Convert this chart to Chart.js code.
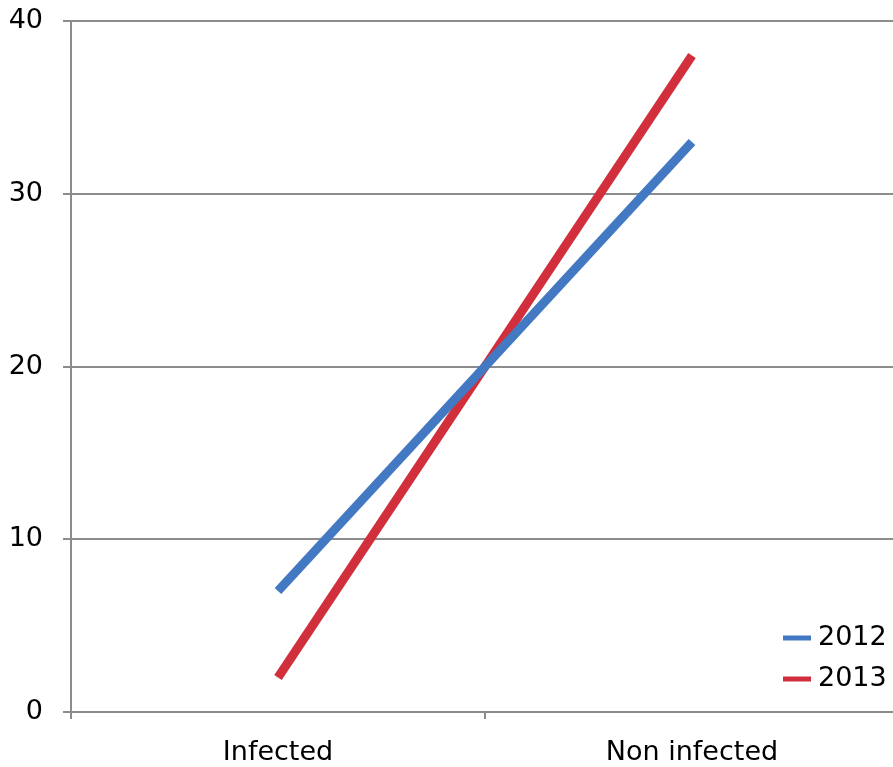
<!DOCTYPE html>
<html>
<head>
<meta charset="utf-8">
<script src="https://cdn.jsdelivr.net/npm/chart.js@4"></script>
<style>
    html, body { margin: 0; padding: 0; background: #fff; overflow: hidden; }
    #chartBox { width: 893px; height: 767px; overflow: hidden; }
</style>
</head>
<body>
<div id="chartBox">
    <canvas id="infectionChart" width="900" height="767"></canvas>
</div>
<script>
// Categories and series
const categories = ['Infected', 'Non infected'];
const seriesLabels = ['2012', '2013'];
const values2012 = [7, 33];
const values2013 = [2, 38];
const yTicks = [0, 10, 20, 30, 40];

const colors = ['#4279c2', '#d12f3c'];
const fontFamily = '"DejaVu Sans", Verdana, sans-serif';

// legend drawn in the bottom right corner of the plot, like the original
const cornerLegend = {
    id: 'cornerLegend',
    afterDraw(chart) {
        const ctx = chart.ctx;
        ctx.save();
        ctx.font = '27px ' + fontFamily;
        ctx.textBaseline = 'middle';
        chart.data.datasets.forEach(function(ds, i) {
            const y = 638 + i * 41;
            ctx.strokeStyle = ds.borderColor;
            ctx.lineWidth = 5;
            ctx.beginPath();
            ctx.moveTo(783, y);
            ctx.lineTo(811, y);
            ctx.stroke();
            ctx.fillStyle = '#000';
            ctx.fillText(ds.label, 818, y);
        });
        ctx.restore();
    }
};

const chartCanvas = document.querySelector('#infectionChart').getContext('2d');

new Chart(chartCanvas, {
    type: 'line',
    data: {
        labels: categories,
        datasets: [
            {
                label: seriesLabels[0],
                data: values2012,
                borderColor: colors[0],
                backgroundColor: colors[0],
                borderWidth: 9,
                borderCapStyle: 'butt',
                pointRadius: 0,
                fill: false
            },
            {
                label: seriesLabels[1],
                data: values2013,
                borderColor: colors[1],
                backgroundColor: colors[1],
                borderWidth: 9,
                borderCapStyle: 'butt',
                pointRadius: 0,
                fill: false
            }
        ]
    },
    options: {
        responsive: false,
        animation: false,
        layout: { padding: { top: 21, right: 1, left: 0, bottom: 0 } },
        plugins: {
            legend: { display: false },
            tooltip: { enabled: false }
        },
        scales: {
            x: {
                offset: true,
                afterFit: function(scale) { scale.height = 55; },
                grid: {
                    offset: true,
                    drawOnChartArea: false,
                    drawTicks: true,
                    tickLength: 7,
                    color: '#8c8c8c',
                    lineWidth: 2
                },
                border: { color: '#8c8c8c', width: 2 },
                ticks: {
                    color: '#000',
                    padding: 18,
                    font: { family: fontFamily, size: 27 }
                }
            },
            y: {
                min: 0,
                max: 40,
                afterFit: function(scale) {
                    scale.width = 71;
                    scale.paddingTop = 0;
                    scale.paddingBottom = 0;
                },
                afterBuildTicks: function(scale) {
                    scale.ticks = yTicks.map(v => ({ value: v }));
                },
                grid: {
                    color: '#8c8c8c',
                    lineWidth: 2,
                    tickLength: 8
                },
                border: { color: '#8c8c8c', width: 2 },
                ticks: {
                    color: '#000',
                    padding: 20,
                    font: { family: fontFamily, size: 27 }
                }
            }
        }
    },
    plugins: [cornerLegend]
});
</script>
</body>
</html>
